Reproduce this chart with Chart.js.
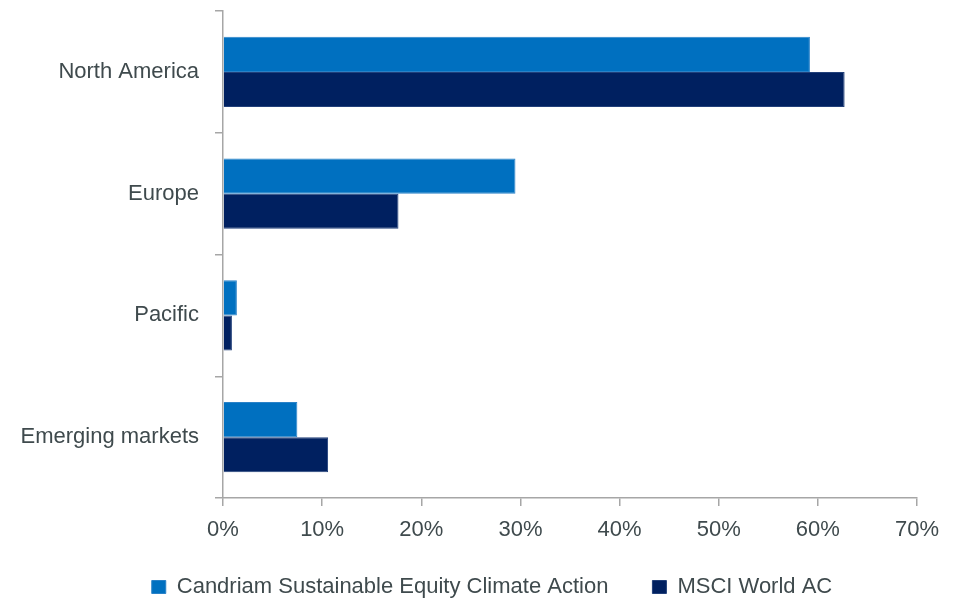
<!DOCTYPE html>
<html>
<head>
<meta charset="utf-8">
<script src="https://cdn.jsdelivr.net/npm/chart.js@4/dist/chart.umd.min.js"></script>
<style>
    html, body { margin: 0; padding: 0; background: #ffffff; }
    #wrap { width: 962px; height: 600px; position: relative; }
</style>
</head>
<body>
<div id="wrap"><canvas id="regionChart"></canvas></div>
<script>
// Regional allocation data
const regions = ['North America', 'Europe', 'Pacific', 'Emerging markets'];
const fundValues = [59.2, 29.5, 1.4, 7.5];
const indexValues = [62.7, 17.7, 0.9, 10.6];
const seriesNames = ['Candriam Sustainable Equity Climate Action', 'MSCI World AC'];
const xTicks = [0, 10, 20, 30, 40, 50, 60, 70];

// Colors
const COLORS = {
    fund: { main: '#0070c0', edge: '#2a82c8' },
    index: { main: '#002060', edge: '#22407a' },
    axis: '#a6a6a6',
    text: '#3f4a4d'
};

const FONT = '"Liberation Sans", Arial, sans-serif';

// x axis is kept short for the layout, so let its labels draw below it
const labelRoom = {
    id: 'labelRoom',
    afterLayout(chart) {
        const x = chart.scales.x;
        x.bottom = x.top + 50;
    }
};

const ctx = document.getElementById('regionChart');

new Chart(ctx, {
    type: 'bar',
    data: {
        labels: regions,
        datasets: [
            {
                label: seriesNames[0],
                data: fundValues,
                backgroundColor: COLORS.fund.main,
                borderColor: COLORS.fund.edge,
                borderWidth: 1,
                barPercentage: 1,
                categoryPercentage: 0.575
            },
            {
                label: seriesNames[1],
                data: indexValues,
                backgroundColor: COLORS.index.main,
                borderColor: COLORS.index.edge,
                borderWidth: 1,
                barPercentage: 1,
                categoryPercentage: 0.575
            }
        ]
    },
    plugins: [labelRoom],
    options: {
        indexAxis: 'y',
        responsive: true,
        maintainAspectRatio: false,
        animation: false,
        layout: {
            padding: { left: 22, right: 0, top: 11, bottom: 0 }
        },
        plugins: {
            tooltip: { enabled: false },
            legend: {
                position: 'bottom',
                maxHeight: 68,
                labels: {
                    boxWidth: 14,
                    boxHeight: 13,
                    padding: 44,
                    color: COLORS.text,
                    font: { family: FONT, size: 22 }
                }
            }
        },
        scales: {
            x: {
                min: 0,
                max: 70,
                afterBuildTicks: scale => {
                    scale.ticks = xTicks.map(v => ({ value: v }));
                },
                afterFit: scale => {
                    scale.height = 34;
                    scale.paddingRight = 45;
                },
                grid: {
                    drawOnChartArea: false,
                    drawTicks: true,
                    tickLength: 8,
                    color: COLORS.axis,
                    lineWidth: 1.5
                },
                border: { display: true, color: COLORS.axis, width: 1.5 },
                ticks: {
                    padding: 13,
                    color: COLORS.text,
                    font: { family: FONT, size: 22, lineHeight: 1 },
                    callback: v => v + '%'
                }
            },
            y: {
                afterFit: scale => {
                    scale.width = 201;
                    scale.paddingTop = 0;
                    scale.paddingBottom = 0;
                },
                grid: {
                    offset: true,
                    drawOnChartArea: false,
                    drawTicks: true,
                    tickLength: 8,
                    color: COLORS.axis,
                    lineWidth: 1.5
                },
                border: { display: true, color: COLORS.axis, width: 1.5 },
                ticks: {
                    padding: 16,
                    color: COLORS.text,
                    font: { family: FONT, size: 22, lineHeight: 1 }
                }
            }
        }
    }
});
</script>
</body>
</html>
